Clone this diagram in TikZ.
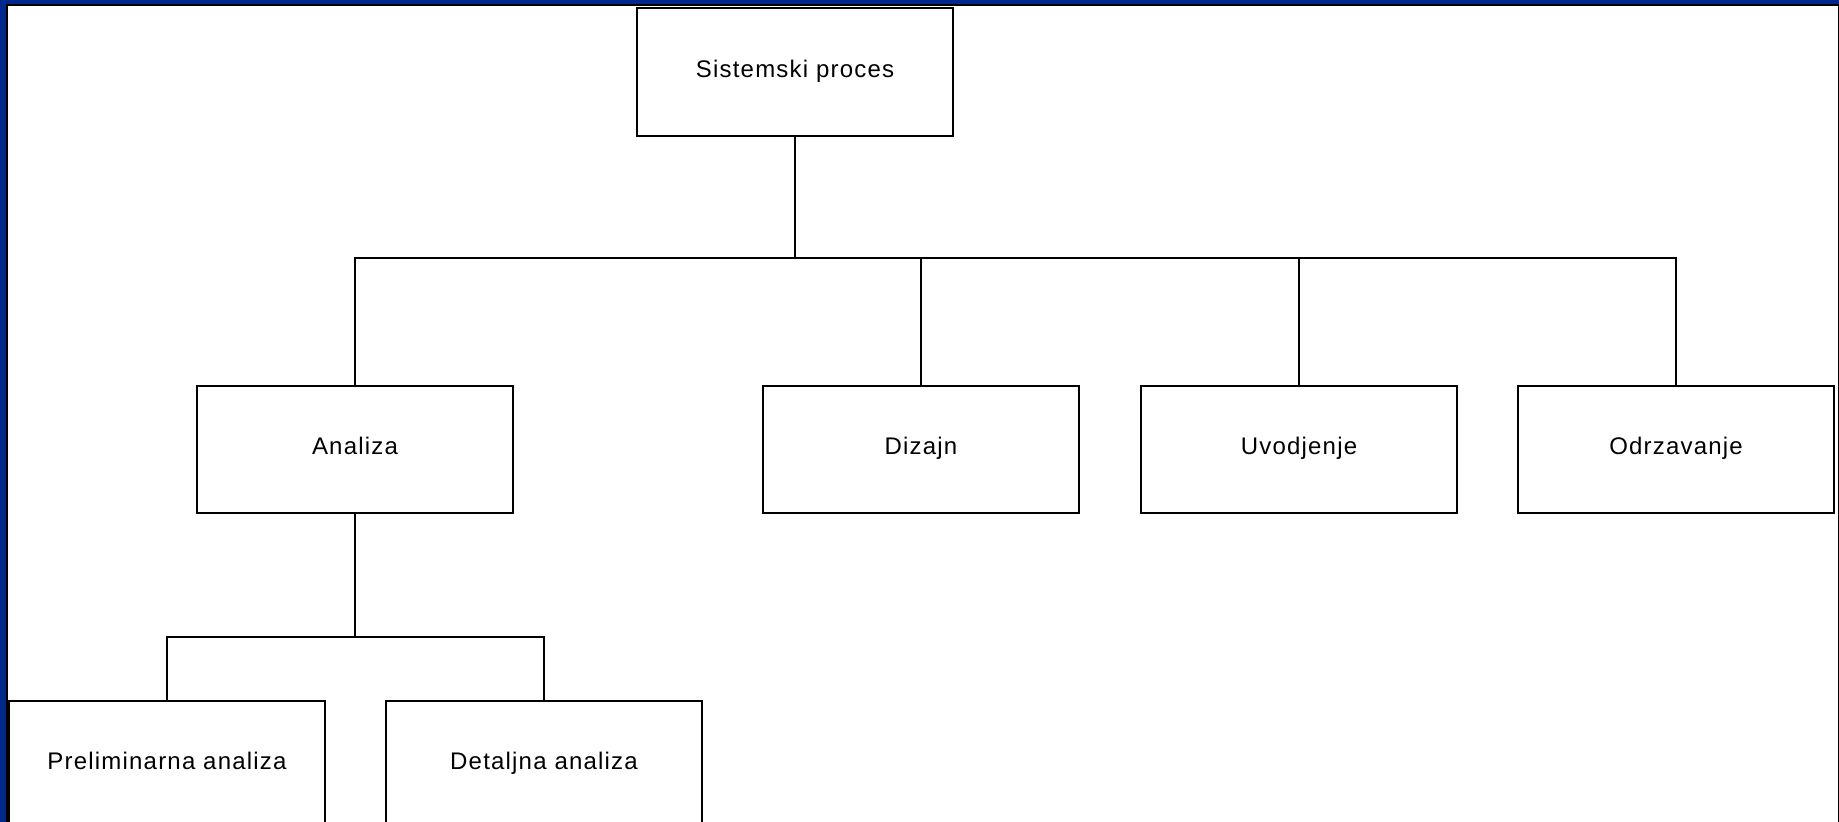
\documentclass[tikz,border=0pt]{standalone}
\usepackage{fontspec}
\setmainfont{Liberation Sans}[LetterSpace=5]
\definecolor{bgblue}{RGB}{0,40,140}
\begin{document}
\begin{tikzpicture}[x=0.5pt,y=-0.5pt,
  box/.style={draw, line width=1.2pt, fill=white, minimum width=158pt, minimum height=63.5pt, inner sep=0pt, anchor=north, text height=0.72em, text depth=0.2em, font=\fontsize{12}{14}\selectfont},
  conn/.style={line width=1.2pt}]
\fill[bgblue] (0,0) rectangle (1839,822);
\useasboundingbox (0,0) rectangle (1839,822);
\clip (0,0) rectangle (1839,822);
\draw[line width=1pt, fill=white] (6.5,5) rectangle (1838.5,840);
\node[box, minimum height=64pt] (top) at (795,7) {Sistemski proces};
\node[box] (ana) at (355,385) {Analiza};
\node[box] (diz) at (921,385) {Dizajn};
\node[box] (uvo) at (1299,385) {Uvodjenje};
\node[box] (odr) at (1676,385) {Odrzavanje};
\node[box] (pre) at (167,700) {Preliminarna analiza};
\node[box] (det) at (544,700) {Detaljna analiza};
\coordinate (b1) at (795,258);
\coordinate (b2) at (355,637);
\draw[conn] (top.south) -- (b1);
\draw[conn] (ana.north) -- (ana.north |- b1) -- (odr.north |- b1) -- (odr.north);
\draw[conn] (diz.north) -- (diz.north |- b1);
\draw[conn] (uvo.north) -- (uvo.north |- b1);
\draw[conn] (ana.south) -- (b2);
\draw[conn] (pre.north) -- (pre.north |- b2) -- (det.north |- b2) -- (det.north);
\end{tikzpicture}
\end{document}
